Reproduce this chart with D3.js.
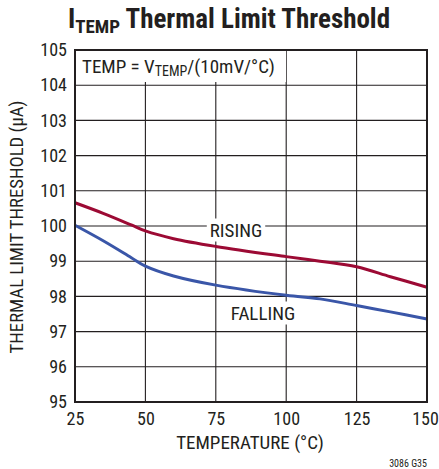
<!DOCTYPE html>
<html><head><meta charset="utf-8">
<script src="https://cdn.jsdelivr.net/npm/d3@7"></script>
<style>
body{margin:0;background:#fff;}
text{font-family:"Liberation Sans Narrow","Arial Narrow","Roboto Condensed","Liberation Sans",sans-serif;fill:#231f20;}
</style></head>
<body><svg id="c" width="439" height="469"></svg>
<script>
const xTicks = [25, 50, 75, 100, 125, 150];
const yTicks = [95, 96, 97, 98, 99, 100, 101, 102, 103, 104, 105];
const risingTemp = [25, 35, 45, 50, 60, 75, 100, 112, 125, 137, 150];
const risingVal  = [100.66, 100.36, 100.03, 99.86, 99.64, 99.42, 99.13, 99.0, 98.84, 98.56, 98.26];
const fallingTemp = [25, 35, 45, 50, 60, 75, 100, 112, 125, 137, 150];
const fallingVal  = [100.02, 99.58, 99.1, 98.86, 98.58, 98.32, 98.03, 97.93, 97.74, 97.56, 97.36];

const svg = d3.select("#c");
const L = 75, R = 427, T = 50, B = 402;
const x = d3.scaleLinear().domain([25, 150]).range([L, R]);
const y = d3.scaleLinear().domain([95, 105]).range([B, T]);

// grid
const g = svg.append("g");
g.selectAll("line.v").data(xTicks.slice(1, -1)).enter().append("line")
  .attr("x1", d => x(d)).attr("x2", d => x(d)).attr("y1", T).attr("y2", B)
  .attr("stroke", "#231f20").attr("stroke-width", 1.1);
g.selectAll("line.h").data(yTicks.slice(1, -1)).enter().append("line")
  .attr("y1", d => y(d)).attr("y2", d => y(d)).attr("x1", L).attr("x2", R)
  .attr("stroke", "#231f20").attr("stroke-width", 1.1);

function label(txt, cx, cy, size) {
  const t = svg.append("text").attr("x", cx).attr("y", cy).attr("text-anchor", "middle")
    .attr("dominant-baseline", "central").attr("font-size", size).text(txt);
  const bb = t.node().getBBox();
  svg.insert("rect", function(){ return t.node(); })
    .attr("x", bb.x - 3).attr("y", bb.y).attr("width", bb.width + 6).attr("height", bb.height).attr("fill", "#fff");
  return t;
}

// lines
const line = d3.line().curve(d3.curveCatmullRom.alpha(0.5)).x(d => x(d[0])).y(d => y(d[1]));
svg.append("path").datum(risingTemp.map((t, i) => [t, risingVal[i]]))
  .attr("d", line).attr("fill", "none").attr("stroke", "#9c0a34").attr("stroke-width", 3);
svg.append("path").datum(fallingTemp.map((t, i) => [t, fallingVal[i]]))
  .attr("d", line).attr("fill", "none").attr("stroke", "#3a56a8").attr("stroke-width", 3);

label("RISING", 236, 230, 19);
label("FALLING", 263, 313, 19);

// top-left annotation
svg.append("rect").attr("x", L + 1).attr("y", T + 1).attr("width", 210).attr("height", 31).attr("fill", "#fff");
const ann = svg.append("text").attr("x", 82).attr("y", 73).attr("font-size", 19);
ann.append("tspan").text("TEMP = V");
ann.append("tspan").attr("font-size", 14).attr("dy", 3).text("TEMP");
ann.append("tspan").attr("dy", -3).text("/(10mV/°C)");

// frame
svg.append("rect").attr("x", L).attr("y", T).attr("width", R - L).attr("height", B - T)
  .attr("fill", "none").attr("stroke", "#231f20").attr("stroke-width", 2);

// axes
const xAxis = svg.append("g").attr("transform", `translate(0,${B})`)
  .call(d3.axisBottom(x).tickValues(xTicks).tickSize(0).tickPadding(10));
xAxis.select(".domain").remove();
xAxis.selectAll("text").attr("font-size", 18).attr("fill", "#231f20").attr("dy", "0.71em");
xAxis.selectAll("text").filter(d => d === 150).attr("dx", -2);
const yAxis = svg.append("g").attr("transform", `translate(${L},0)`)
  .call(d3.axisLeft(y).tickValues(yTicks).tickSize(0).tickPadding(8));
yAxis.select(".domain").remove();
yAxis.selectAll("text").attr("font-size", 18).attr("fill", "#231f20");

// titles
svg.append("text").attr("x", 250).attr("y", 449).attr("text-anchor", "middle").attr("font-size", 19)
  .text("TEMPERATURE (°C)");
svg.append("text").attr("transform", "translate(23,227) rotate(-90)").attr("text-anchor", "middle")
  .attr("font-size", 18.7).text("THERMAL LIMIT THRESHOLD (µA)");
svg.append("text").attr("x", 427).attr("y", 467).attr("text-anchor", "end").attr("font-size", 10)
  .text("3086 G35");

const title = svg.append("text").attr("x", 229).attr("y", 28).attr("text-anchor", "middle")
  .attr("font-size", 27).attr("font-weight", "bold");
title.append("tspan").text("I");
title.append("tspan").attr("font-size", 19).attr("dy", 5).text("TEMP");
title.append("tspan").attr("dy", -5).text(" Thermal Limit Threshold");
</script></body></html>
